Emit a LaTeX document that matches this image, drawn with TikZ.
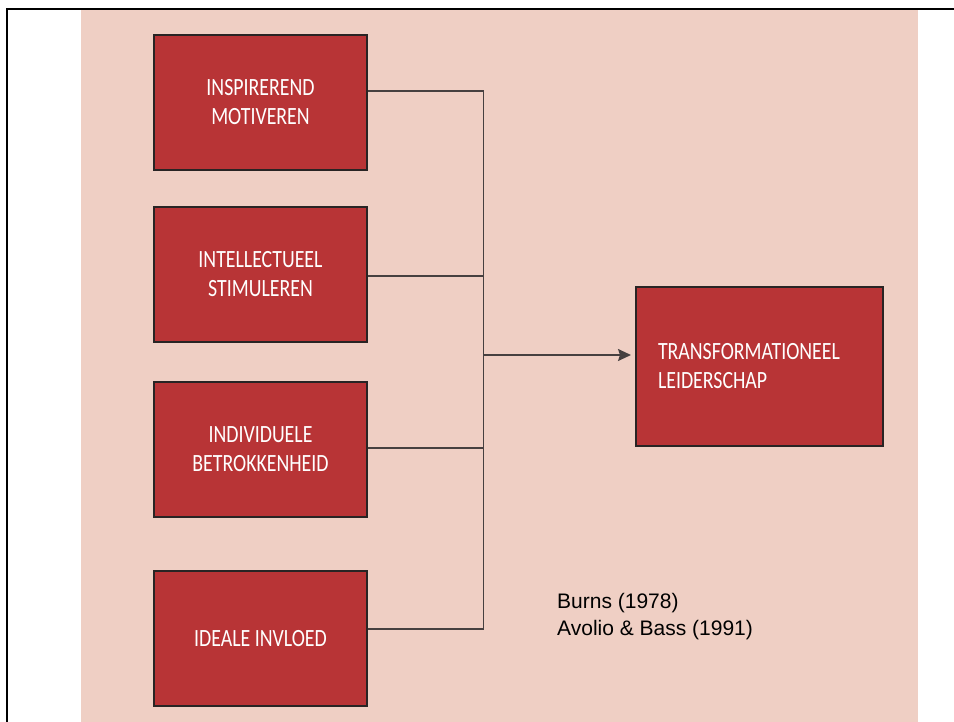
\documentclass[tikz,border=0pt]{standalone}
\usepackage{fontspec}
\usepackage{tikz}
\usetikzlibrary{arrows.meta,positioning}
\newfontfamily\boxfont[FakeStretch=0.8]{Carlito}
\newfontfamily\reffont{Liberation Sans}
\definecolor{tlpink}{RGB}{239,207,196}
\definecolor{tlred}{RGB}{184,52,54}
\definecolor{tlborder}{RGB}{40,36,36}
\definecolor{tlline}{RGB}{70,64,64}
\tikzstyle{link} = [line width=1.6pt,color=tlline]

\begin{document}
\begin{tikzpicture}[
    x=1pt, y=-1pt,
    node distance=175pt,
    factor/.style={rectangle, draw=tlborder, line width=2pt, fill=tlred, text=white, minimum width=213pt, minimum height=135pt, font={\boxfont\fontsize{24.8}{29}\selectfont}, align=center},
    result/.style={factor, minimum width=247pt, minimum height=159pt, text width=203pt, inner xsep=22pt, align=left},
    arrow/.style={link, -{Stealth[length=13pt,width=12pt,inset=2pt]}, shorten >=4pt}
]
\useasboundingbox (0,0) rectangle (954,722);
% Background and frame
\fill[tlpink] (81,10) rectangle (918,722);
\draw[line width=2.8pt] (7,722) -- (7,9) -- (954,9);

% Left column
\node (insp) [factor] at (260.5,102.5) {INSPIREREND\\MOTIVEREN};
\node (intel) [factor, below of=insp, yshift=3pt] {INTELLECTUEEL\\STIMULEREN};
\node (indiv) [factor, below of=intel] {INDIVIDUELE\\BETROKKENHEID};
\node (ideaal) [factor, below of=indiv, yshift=-14pt] {IDEALE INVLOED};

% Result
\node (transf) [result] at (759.5,366.5) {TRANSFORMATIONEEL\\LEIDERSCHAP};

% Sources
\node (bron) [anchor=north west, inner sep=0pt, align=left, font={\reffont\fontsize{21}{27}\selectfont}] at (557,593) {Burns (1978)\\Avolio \& Bass (1991)};

% Connections
\coordinate (bus) at (483.5,355);
\draw[link] ([yshift=11.5pt]insp.east) -| (bus);
\draw[link] ([yshift=9.5pt]ideaal.east) -| (bus);
\draw[link] ([yshift=-1.5pt]intel.east) -- ([yshift=-1.5pt]intel.east -| bus);
\draw[link] ([yshift=1.5pt]indiv.east) -- ([yshift=1.5pt]indiv.east -| bus);
\draw[arrow] (bus) -- (bus -| transf.west);
\end{tikzpicture}
\end{document}
